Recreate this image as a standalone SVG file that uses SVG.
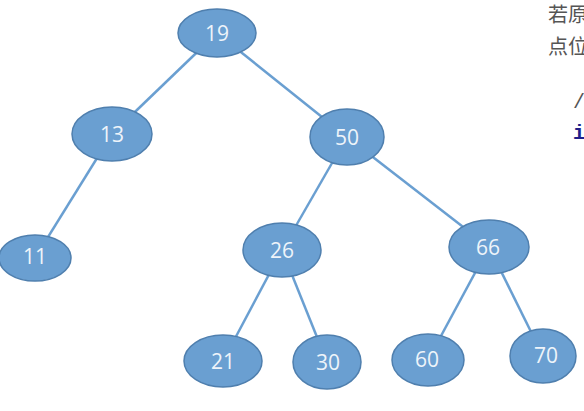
<svg xmlns="http://www.w3.org/2000/svg" width="584" height="411" viewBox="0 0 584 411">
<style>
.n ellipse{fill:#6a9fd1;stroke:#4f7fae;stroke-width:1.5}
.n text{font-family:"Open Sans","Liberation Sans",sans-serif;font-size:21px;fill:#eef4fa;text-anchor:middle;dominant-baseline:central}
#edges line{stroke:#6a9fd1;stroke-width:2.5}
.cjk{font-family:"Noto Sans CJK SC",sans-serif;font-size:20px;fill:#555}
</style>
<rect width="584" height="411" fill="#fff"/>
<g id="edges">
<line x1="217" y1="33" x2="112" y2="134"/>
<line x1="217" y1="33" x2="347" y2="137"/>
<line x1="112" y1="134" x2="35" y2="258"/>
<line x1="347" y1="137" x2="282" y2="250"/>
<line x1="347" y1="137" x2="489" y2="247"/>
<line x1="282" y1="250" x2="223" y2="361"/>
<line x1="282" y1="250" x2="327" y2="362"/>
<line x1="489" y1="247" x2="428" y2="360"/>
<line x1="489" y1="247" x2="543" y2="356"/>
</g>
<g id="n19" class="n"><ellipse cx="217" cy="33" rx="39" ry="24"/><text x="217" y="33">19</text></g>
<g id="n13" class="n"><ellipse cx="112" cy="134" rx="40" ry="27"/><text x="112" y="134">13</text></g>
<g id="n50" class="n"><ellipse cx="347" cy="137" rx="37" ry="28"/><text x="347" y="137">50</text></g>
<g id="n11" class="n"><ellipse cx="35" cy="258" rx="36" ry="23"/><text x="35" y="256">11</text></g>
<g id="n26" class="n"><ellipse cx="282" cy="250" rx="39" ry="27"/><text x="282" y="250">26</text></g>
<g id="n66" class="n"><ellipse cx="489" cy="247" rx="40" ry="27"/><text x="488" y="247">66</text></g>
<g id="n21" class="n"><ellipse cx="223" cy="361" rx="39" ry="26"/><text x="223" y="361">21</text></g>
<g id="n30" class="n"><ellipse cx="327" cy="362" rx="34" ry="27"/><text x="328" y="362">30</text></g>
<g id="n60" class="n"><ellipse cx="428" cy="360" rx="36" ry="26"/><text x="427" y="359">60</text></g>
<g id="n70" class="n"><ellipse cx="543" cy="356" rx="33" ry="27"/><text x="546" y="355">70</text></g>
<text class="cjk" x="548" y="22">若原</text>
<text class="cjk" x="548" y="54">点位</text>
<text x="573" y="108" font-family="Liberation Mono,monospace" font-size="20" fill="#555">/</text>
<text x="573" y="139" font-family="Liberation Mono,monospace" font-size="20" font-weight="bold" fill="#1f1f8a">i</text>
</svg>
